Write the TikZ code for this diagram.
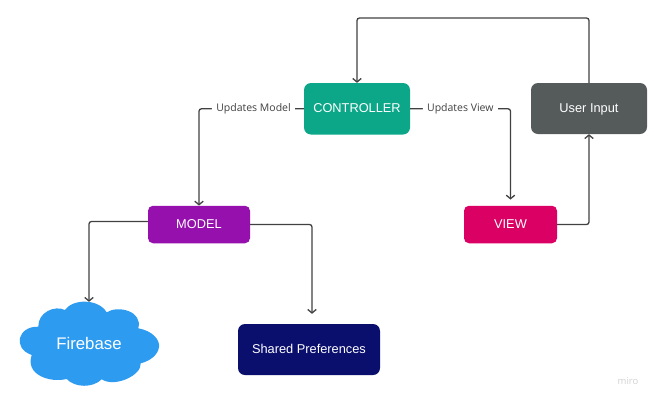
\documentclass[tikz,border=0pt]{standalone}
\usepackage{fontspec}
\usetikzlibrary{arrows.meta}
\setmainfont{Liberation Sans}
\newfontfamily\labelfont{Open Sans}
\definecolor{ctrlgreen}{HTML}{0CA789}
\definecolor{modelpurple}{HTML}{9510AC}
\definecolor{viewpink}{HTML}{DB0063}
\definecolor{inputgrey}{HTML}{555A5A}
\definecolor{prefsnavy}{HTML}{0A0F6E}
\definecolor{cloudblue}{HTML}{2D9BF0}
\definecolor{linkgrey}{HTML}{414141}
\begin{document}
\begin{tikzpicture}[x=1pt,y=-1pt,>={Straight Barb[length=3.5pt,width=8.5pt]},
	box/.style={rounded corners=7pt,text=white,font=\fontsize{12.8}{15}\selectfont,inner sep=0pt,align=center,text height=10pt,text depth=2pt},
	link/.style={->,linkgrey,line width=1.3pt,rounded corners=2.5pt},
	linklabel/.style={fill=white,text=linkgrey,font=\labelfont\fontsize{10.5}{12}\selectfont,inner sep=0pt,minimum height=12pt,minimum width=83pt}]
	\useasboundingbox (0,0) rectangle (654,400);
	\fill[cloudblue] (65,310) .. controls (72,299) and (98,298) .. (106.7,312.3)
		.. controls (118,305) and (143,311) .. (138.3,328.3)
		.. controls (153,331) and (160,340) .. (159,347) .. controls (158,355) and (150,361) .. (140.7,363.3)
		.. controls (142,375) and (115,388) .. (101.7,379.3)
		.. controls (93,388) and (75,388) .. (66.7,379)
		.. controls (50,383) and (25,375) .. (31.7,355)
		.. controls (12,348) and (18,326) .. (38.3,326.7)
		.. controls (38,312) and (55,305) .. (65,310) -- cycle;
	\node[box,fill=ctrlgreen,minimum width=106pt,minimum height=51.5pt] (controller) at (357,108.75) {CONTROLLER};
	\node[box,fill=inputgrey,minimum width=116pt,minimum height=51pt] (userinput) at (589,108.5) {User Input};
	\node[box,fill=modelpurple,minimum width=102pt,minimum height=37.5pt,rounded corners=5pt] (model) at (199,224.5) {MODEL};
	\node[box,fill=viewpink,minimum width=93pt,minimum height=37.5pt,rounded corners=5pt] (view) at (510.5,224.5) {VIEW};
	\node[box,fill=prefsnavy,minimum width=142pt,minimum height=51pt] (prefs) at (309,349.5) {Shared Preferences};
	\node[text=white,inner sep=0pt,minimum width=140pt,minimum height=84pt,font=\fontsize{16.8}{19}\selectfont,text height=12pt,text depth=2pt] (firebase) at (89,344) {Firebase};
	\node[text=black!18,font=\labelfont\fontsize{9.5}{10}\selectfont,inner sep=0pt] (miro) at (628,381) {miro};
	\draw[link] (controller.west) -| node[linklabel,pos=.24]{Updates Model} (model.north);
	\draw[link,shorten >=6pt] (controller.east) -| node[linklabel,pos=.25,minimum width=75pt]{Updates View} (view.north);
	\draw[link] ([yshift=3pt]model.west) -| (firebase.north);
	\draw[link,shorten >=10pt] (model.east) -| (prefs.north -| 312,0);
	\draw[link] (view.east) -| (userinput.south);
	\draw[link] (userinput.north) |- (357,18) -- (controller.north);
\end{tikzpicture}
\end{document}
